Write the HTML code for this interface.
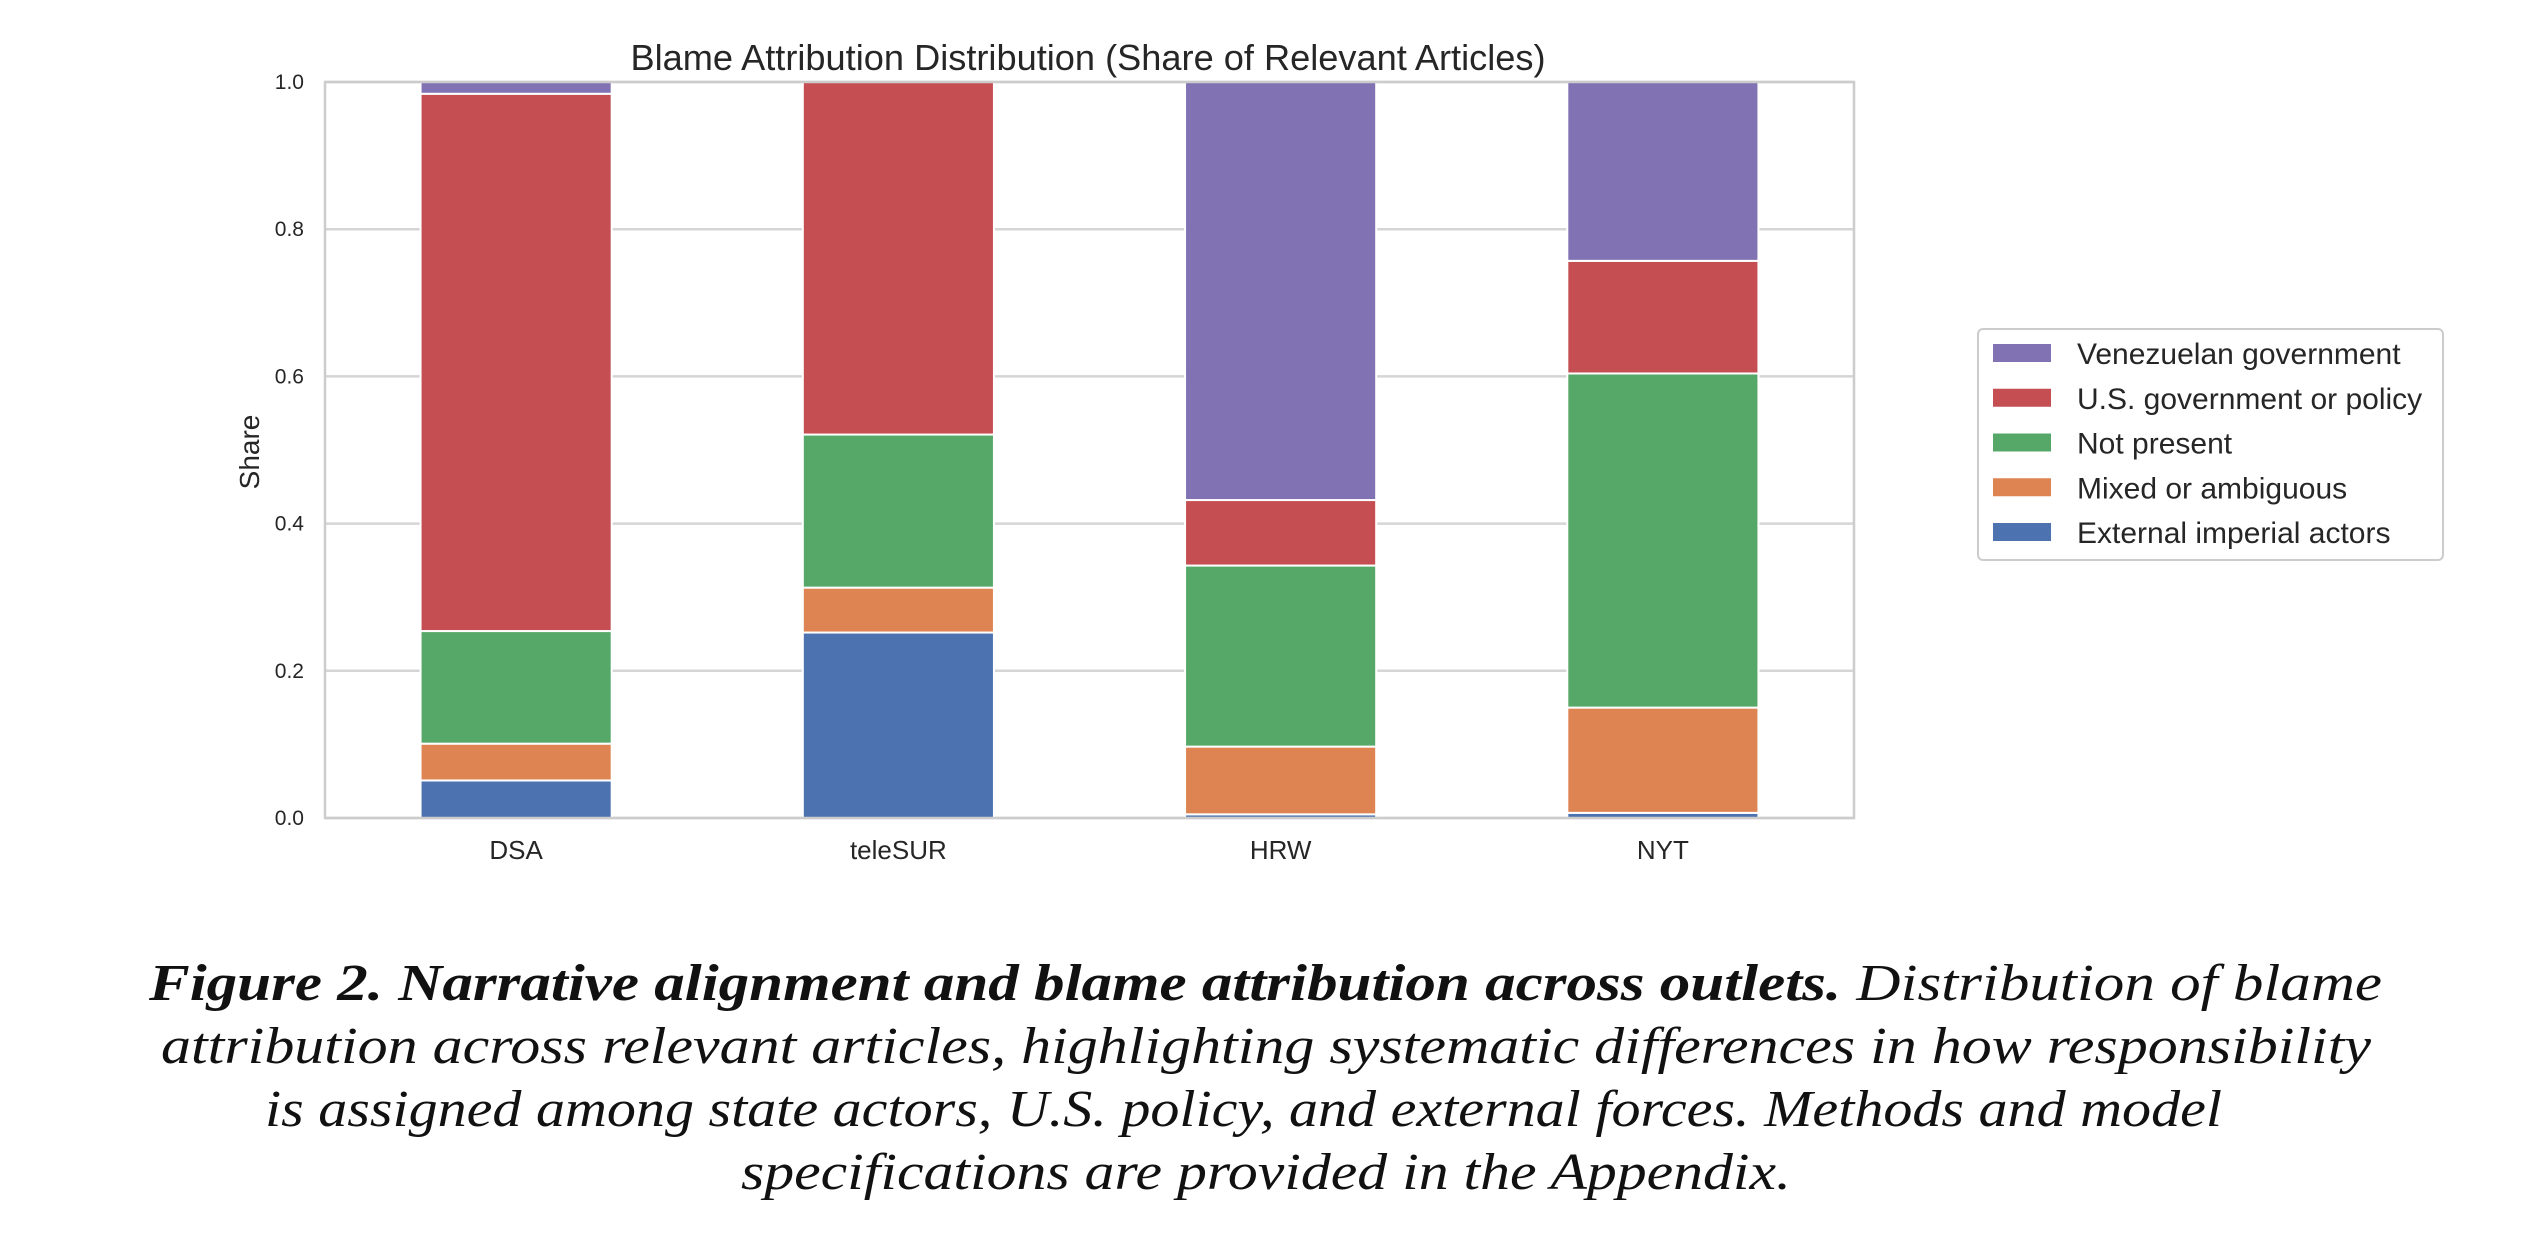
<!DOCTYPE html>
<html><head><meta charset="utf-8"><style>
html,body{margin:0;padding:0;background:#fff;}
svg{display:block;}
</style></head><body>
<svg id="chart" width="2532" height="1236" viewBox="0 0 2532 1236" xmlns="http://www.w3.org/2000/svg" font-family="Liberation Sans, Arial, sans-serif">
<rect x="0" y="0" width="2532" height="1236" fill="#fff"/>
<g id="grid"></g>
<g id="bars"></g>
<rect x="325" y="82" width="1529" height="736" fill="none" stroke="#cccccc" stroke-width="2.5"/>
<g id="yticks"></g>
<g id="xticks"></g>
<text x="1088" y="70" font-size="36" fill="#262626" text-anchor="middle" textLength="915" lengthAdjust="spacingAndGlyphs">Blame Attribution Distribution (Share of Relevant Articles)</text>
<text transform="translate(259,452) rotate(-90)" font-size="28" fill="#262626" text-anchor="middle">Share</text>
<g id="legend">
<rect x="1978" y="329" width="465" height="231" rx="5" fill="#fff" stroke="#cccccc" stroke-width="2"/>
</g>
<g font-family="Liberation Serif, DejaVu Serif, serif" font-style="italic" font-size="52" fill="#111">
<text x="149" y="1000" textLength="2233" lengthAdjust="spacingAndGlyphs"><tspan font-weight="bold">Figure 2. Narrative alignment and blame attribution across outlets.</tspan> Distribution of blame</text>
<text x="161" y="1063" textLength="2210" lengthAdjust="spacingAndGlyphs">attribution across relevant articles, highlighting systematic differences in how responsibility</text>
<text x="265" y="1126" textLength="1957" lengthAdjust="spacingAndGlyphs">is assigned among state actors, U.S. policy, and external forces. Methods and model</text>
<text x="741" y="1189" textLength="1050" lengthAdjust="spacingAndGlyphs">specifications are provided in the Appendix.</text>
</g>
</svg>
<script>
const categories = ["DSA", "teleSUR", "HRW", "NYT"];
const seriesNames = ["External imperial actors", "Mixed or ambiguous", "Not present", "U.S. government or policy", "Venezuelan government"];
const external = [0.051, 0.252, 0.005, 0.007];
const mixed = [0.050, 0.061, 0.092, 0.143];
const notPresent = [0.153, 0.208, 0.246, 0.454];
const usGov = [0.730, 0.479, 0.089, 0.153];
const venGov = [0.016, 0.000, 0.568, 0.243];
const yTicks = [0.0, 0.2, 0.4, 0.6, 0.8, 1.0];
const colors = ["#4c72b0", "#dd8452", "#55a868", "#c44e52", "#8172b3"];

const NS = "http://www.w3.org/2000/svg";
const L = 325, R = 1854, T = 82, B = 818;
function yScale(v){ return B - v * (B - T); }
const step = (R - L) / categories.length;
function xCenter(i){ return L + step * (i + 0.5); }
const barW = step * 0.5;
function mk(tag, attrs, parent){ const e = document.createElementNS(NS, tag); for (const k in attrs) e.setAttribute(k, attrs[k]); parent.appendChild(e); return e; }

const grid = document.getElementById('grid');
const yt = document.getElementById('yticks');
yTicks.forEach(t => {
  const ln = mk('line', {x1: L, x2: R, y1: yScale(t), y2: yScale(t), stroke: '#d5d5d5', 'stroke-width': 2.5}, grid);
  
  
  const tx = mk('text', {x: 304, y: yScale(t) + 7, 'font-size': 21, fill: '#262626', 'text-anchor': 'end'}, yt);
  tx.textContent = t.toFixed(1);
  
  
});

const series = [external, mixed, notPresent, usGov, venGov];
const bars = document.getElementById('bars');
const xt = document.getElementById('xticks');
categories.forEach((c, i) => {
  let base = 0;
  series.forEach((s, k) => {
    const v = s[i];
    if (v > 0) {
      const r = mk('rect', {x: xCenter(i) - barW / 2, y: yScale(base + v), width: barW, height: yScale(base) - yScale(base + v), fill: colors[k], stroke: '#fff', 'stroke-width': 2}, bars);
      
      
    }
    base += v;
  });
  const tx = mk('text', {x: xCenter(i), y: 859, 'font-size': 26, fill: '#262626', 'text-anchor': 'middle'}, xt);
  tx.textContent = c;
  
  
});

const lg = document.getElementById('legend');
for (let j = 0; j < seriesNames.length; j++) {
  const k = seriesNames.length - 1 - j;
  const cy = 353 + j * 44.75;
  const p = mk('rect', {x: 1993, y: cy - 9, width: 58, height: 18, fill: colors[k]}, lg);
  
  
  const t = mk('text', {x: 2077, y: cy + 11, 'font-size': 30, fill: '#262626'}, lg);
  t.textContent = seriesNames[k];
  
  
}
</script>
</body></html>
